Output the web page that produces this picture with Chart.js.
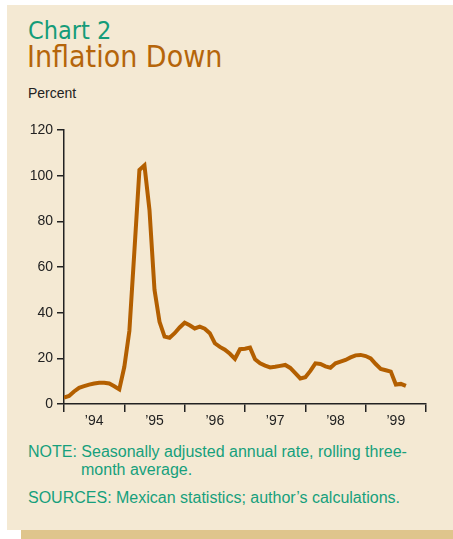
<!DOCTYPE html>
<html>
<head>
<meta charset="utf-8">
<script src="https://cdn.jsdelivr.net/npm/chart.js@4.4.1/dist/chart.umd.min.js"></script>
<style>
  html, body { margin: 0; padding: 0; background: #ffffff; }
  body { width: 453px; height: 539px; position: relative; overflow: hidden; }
  #panel { position: absolute; left: 7px; top: 5px; width: 446px; height: 525px; background: #f4e9d3; }
  #shadow { position: absolute; left: 21px; top: 530px; width: 432px; height: 9px; background: #dfc58c; }
  .t1 { position: absolute; left: 28px; top: 16px; font: 25px "DejaVu Sans Condensed", "DejaVu Sans"; font-stretch: condensed; color: #159c79; }
  .t2 { position: absolute; left: 27px; top: 39px; font: 30px "DejaVu Sans Condensed", "DejaVu Sans"; font-stretch: condensed; color: #b5650a; }
  .unit { position: absolute; left: 28px; top: 85px; font: 14px "Liberation Sans", Arial, sans-serif; color: #222; }
  .note { position: absolute; left: 28px; font: 16px "Liberation Sans", Arial, sans-serif; color: #16a07c; line-height: 18px; }
  .note .hang { padding-left: 53px; }
  #wrap { position: absolute; left: 0; top: 115px; width: 453px; height: 320px; }
</style>
</head>
<body>
<div id="panel"></div>
<div id="shadow"></div>
<div class="t1">Chart 2</div>
<div class="t2">Inflation Down</div>
<div class="unit">Percent</div>
<div id="wrap"><canvas id="chart"></canvas></div>
<div class="note" style="top:443px">NOTE: Seasonally adjusted annual rate, rolling three-<br><span class="hang">month average.</span></div>
<div class="note" style="top:489px">SOURCES: Mexican statistics; author’s calculations.</div>

<script>
// ── Data ───────────────────────────────────────────────────
// monthly, starting January 1994 (month 0)
const years = ['94', '95', '96', '97', '98', '99'];
const inflation = [
    2.8, 3.5, 5.5, 7.1, 7.8, 8.5, 9.0, 9.3, 9.3, 9.0, 7.8, 6.4,        // 1994
    16.3, 32, 67, 102.5, 104.5, 85, 50, 36, 29.5, 29, 31, 33.5,        // 1995
    35.6, 34.5, 33.1, 33.9, 33, 31, 26.6, 25, 23.8, 22, 19.8, 24,      // 1996
    24.2, 24.7, 19.6, 17.8, 16.8, 16.0, 16.3, 16.7, 17.1, 15.8, 13.5, 11.2, // 1997
    11.7, 14.5, 17.8, 17.5, 16.5, 15.9, 17.8, 18.6, 19.3, 20.4, 21.3, 21.5, // 1998
    21.0, 20, 17.5, 15.4, 14.8, 14.2, 8.5, 8.8, 7.9                      // 1999
];
const yTicks = [0, 20, 40, 60, 80, 100, 120];

const points = inflation.map((v, i) => ({ x: i, y: v }));
const axisColor = '#222';
const tickFont = { family: '"Liberation Sans", Arial, sans-serif', size: 14 };

// ── Chart ──────────────────────────────────────────────────
new Chart(document.getElementById('chart'), {
    type: 'line',
    data: {
        datasets: [{
            data: points,
            borderColor: '#b35f00',
            borderWidth: 4,
            pointRadius: 0,
            tension: 0,
            fill: false
        }]
    },
    options: {
        responsive: true, maintainAspectRatio: false,
        animation: false,
        layout: { padding: { top: 15, right: 27, left: 0, bottom: 0 } },
        plugins: { legend: { display: false }, tooltip: { enabled: false } },
        scales: {
            x: {
                type: 'linear', min: 0, max: 72,
                afterFit: s => { s.height = 31; },
                border: { display: true, color: axisColor, width: 1.5 },
                grid: {
                    drawOnChartArea: false, drawTicks: true, tickLength: 8, lineWidth: 1.5,
                    color: ctx => (ctx.tick && ctx.tick.value % 12 === 0) ? axisColor : 'rgba(0,0,0,0)'
                },
                ticks: {
                    stepSize: 6, autoSkip: false, maxRotation: 0, padding: 1,
                    color: axisColor, font: tickFont,
                    callback: v => (v % 12 === 6) ? '\u2019' + years[(v - 6) / 12] : ''
                }
            },
            y: {
                min: 0, max: 120,
                afterFit: s => { s.width = 64; },
                afterBuildTicks: s => { s.ticks = yTicks.map(v => ({ value: v })); },
                border: { display: true, color: axisColor, width: 1.5 },
                grid: { drawOnChartArea: false, drawTicks: true, tickLength: 7, lineWidth: 1.5, color: axisColor },
                ticks: { padding: 4, color: axisColor, font: tickFont }
            }
        }
    }
});
</script>
</body>
</html>
